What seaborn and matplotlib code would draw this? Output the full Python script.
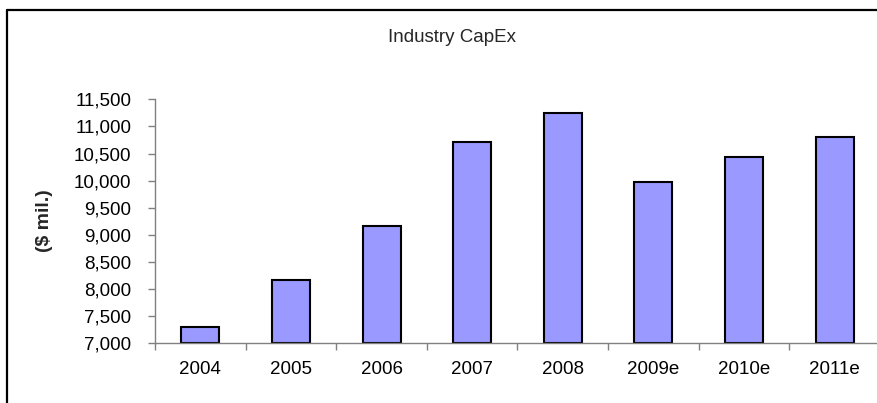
import matplotlib
matplotlib.use("Agg")
import matplotlib.pyplot as plt
from matplotlib.lines import Line2D
from matplotlib.ticker import FixedLocator, FuncFormatter
import seaborn as sns
import pandas as pd

years = ["2004", "2005", "2006", "2007", "2008", "2009e", "2010e", "2011e"]
capex = [7305, 8168, 9164, 10714, 11243, 9980, 10443, 10812]
title = "Industry CapEx"
ylabel = "($ mil.)"
y_min, y_max, y_step = 7000, 11500, 500

sns.set_style("white")
plt.rcParams['font.family'] = ['Liberation Sans', 'DejaVu Sans']

W, H = 878, 403
fig = plt.figure(figsize=(W / 100, H / 100), dpi=100)
ax = fig.add_axes([155 / W, 1 - 343.3 / H, 725 / W, (343.3 - 99.3) / H])

df = pd.DataFrame({"year": years, "capex": capex})
sns.barplot(data=df, x="year", y="capex", color="#9999FF", saturation=1,
            edgecolor="black", linewidth=1.5, width=0.42, ax=ax)
for p in ax.patches:
    h = p.get_height()
    p.set_y(y_min)
    p.set_height(h - y_min)

ax.set_ylim(y_min, y_max)
ax.set_xlim(-0.5, len(years) - 0.5)
ax.set_yticks(list(range(y_min, y_max + 1, y_step)))
ax.yaxis.set_major_formatter(FuncFormatter(lambda v, pos: f"{int(v):,}"))
ax.set_xlabel("")
ax.set_ylabel("")

for s in ["top", "right"]:
    ax.spines[s].set_visible(False)
for s in ["left", "bottom"]:
    ax.spines[s].set_color("#808080")
    ax.spines[s].set_linewidth(1.0)

ax.xaxis.set_minor_locator(FixedLocator([i - 0.5 for i in range(len(years) + 1)]))
ax.tick_params(axis="x", which="major", length=0, pad=13, labelsize=13.5, colors="black")
ax.tick_params(axis="x", which="minor", length=5, width=1, color="#808080", direction="out", bottom=True)
ax.tick_params(axis="y", which="major", length=5, width=1, color="#808080", direction="out",
               left=True, pad=12, labelsize=13.5, labelcolor="black")

fig.text(452 / W, 1 - 41.7 / H, title, ha="center", va="baseline", fontsize=13.5)
fig.text(45 / W, 1 - 221 / H, ylabel, ha="center", va="center", rotation=90,
         fontsize=14, fontweight="bold")

# outer frame (top and left edges visible)
fig.add_artist(Line2D([7 / W, 1], [1 - 10 / H, 1 - 10 / H], color="black", lw=1.6,
                      transform=fig.transFigure))
fig.add_artist(Line2D([7 / W, 7 / W], [0, 1 - 10 / H], color="black", lw=1.6,
                      transform=fig.transFigure))

fig.savefig("out.png", dpi=100)
